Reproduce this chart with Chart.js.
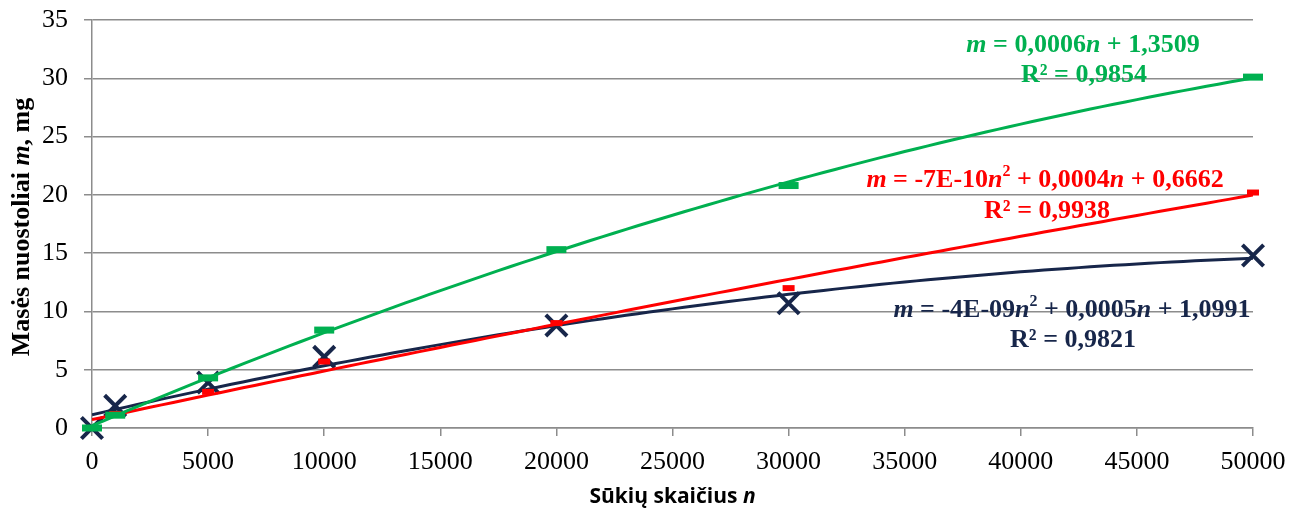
<!DOCTYPE html>
<html>
<head>
<meta charset="utf-8">
<script src="https://cdn.jsdelivr.net/npm/chart.js@4"></script>
<style>
  html, body { margin: 0; padding: 0; background: #ffffff; }
  #wrap { width: 1305px; height: 513px; }
</style>
</head>
<body>
<div id="wrap"><canvas id="c" width="1305" height="513"></canvas></div>
<script>
// Number of cycles n and measured mass loss m (mg) for the three samples
const cycles = [0, 1000, 5000, 10000, 20000, 30000, 50000];
const lossGreen = [0, 1.1, 4.3, 8.4, 15.3, 20.8, 30.1];
const lossRed = [0, 1.2, 3.1, 5.7, 9.0, 12.0, 20.2];
const lossNavy = [0, 1.9, 3.9, 6.1, 8.8, 10.7, 14.8];

const xTicks = [0, 5000, 10000, 15000, 20000, 25000, 30000, 35000, 40000, 45000, 50000];
const yTicks = [0, 5, 10, 15, 20, 25, 30, 35];

const GREEN = '#00B050';
const RED = '#FF0000';
const NAVY = '#17264A';
const GRID = '#8c8c8c';

// Least-squares polynomial fit of degree 2 (trend lines)
function polyfit2(xs, ys) {
  const s = 1e4;
  const n = 3;
  const A = [[0, 0, 0], [0, 0, 0], [0, 0, 0]];
  const b = [0, 0, 0];
  xs.forEach((xv, k) => {
    const x = xv / s;
    const p = [1, x, x * x];
    for (let i = 0; i < n; i++) {
      b[i] += p[i] * ys[k];
      for (let j = 0; j < n; j++) A[i][j] += p[i] * p[j];
    }
  });
  for (let i = 0; i < n; i++) {
    let piv = i;
    for (let r = i + 1; r < n; r++) if (Math.abs(A[r][i]) > Math.abs(A[piv][i])) piv = r;
    [A[i], A[piv]] = [A[piv], A[i]];
    [b[i], b[piv]] = [b[piv], b[i]];
    for (let r = i + 1; r < n; r++) {
      const f = A[r][i] / A[i][i];
      for (let c = i; c < n; c++) A[r][c] -= f * A[i][c];
      b[r] -= f * b[i];
    }
  }
  const c = [0, 0, 0];
  for (let i = n - 1; i >= 0; i--) {
    let v = b[i];
    for (let j = i + 1; j < n; j++) v -= A[i][j] * c[j];
    c[i] = v / A[i][i];
  }
  return x => { const u = x / s; return c[0] + c[1] * u + c[2] * u * u; };
}

function trendPoints(ys) {
  const f = polyfit2(cycles, ys);
  const pts = [];
  for (let x = 0; x <= 50000; x += 500) pts.push({ x, y: f(x) });
  return pts;
}

const toPoints = ys => cycles.map((x, i) => ({ x, y: ys[i] }));

// Equation labels (text runs) anchored in data coordinates
const eqLabels = [
  { color: GREEN, x: 42680, y: 32.86, runs: [{ t: 'm', i: 1 }, { t: ' = 0,0006' }, { t: 'n', i: 1 }, { t: ' + 1,3509' }] },
  { color: GREEN, x: 42720, y: 30.28, runs: [{ t: 'R² = 0,9854' }] },
  { color: RED, x: 41043, y: 21.27, runs: [{ t: 'm', i: 1 }, { t: ' = -7E-10' }, { t: 'n', i: 1 }, { t: '2', sup: 1 }, { t: ' + 0,0004' }, { t: 'n', i: 1 }, { t: ' + 0,6662' }] },
  { color: RED, x: 41130, y: 18.62, runs: [{ t: 'R² = 0,9938' }] },
  { color: NAVY, x: 42205, y: 10.12, runs: [{ t: 'm', i: 1 }, { t: ' = -4E-09' }, { t: 'n', i: 1 }, { t: '2', sup: 1 }, { t: ' + 0,0005' }, { t: 'n', i: 1 }, { t: ' + 1,0991' }] },
  { color: NAVY, x: 42248, y: 7.55, runs: [{ t: 'R² = 0,9821' }] }
];

function drawRuns(ctx, runs, cx, cy, size, family, color) {
  const fontFor = r => (r.i ? 'italic ' : '') + 'bold ' + (r.sup ? Math.round(size * 0.62) : size) + 'px ' + family;
  const widths = [];
  let total = 0;
  runs.forEach(r => { ctx.font = fontFor(r); const w = ctx.measureText(r.t).width; widths.push(w); total += w; });
  let x = cx - total / 2;
  ctx.fillStyle = color;
  ctx.textAlign = 'left';
  ctx.textBaseline = 'middle';
  runs.forEach((r, k) => {
    ctx.font = fontFor(r);
    ctx.fillText(r.t, x, r.sup ? cy - size * 0.3 : cy);
    x += widths[k];
  });
}

const textPlugin = {
  id: 'textPlugin',
  afterDatasetsDraw(chart) {
    const ctx = chart.ctx;
    const xs = chart.scales.x, ys = chart.scales.y, area = chart.chartArea;
    ctx.save();
    eqLabels.forEach(l => {
      drawRuns(ctx, l.runs, xs.getPixelForValue(l.x), ys.getPixelForValue(l.y), 26, '"Liberation Serif"', l.color);
    });
    // axis titles
    drawRuns(ctx, [{ t: 'Sūkių skaičius ' }, { t: 'n', i: 1 }], (area.left + area.right) / 2, 497, 21, '"Open Sans"', '#000000');
    ctx.translate(22, (area.top + area.bottom) / 2 + 3);
    ctx.rotate(-Math.PI / 2);
    drawRuns(ctx, [{ t: 'Masės nuostoliai ' }, { t: 'm', i: 1 }, { t: ', mg' }], 0, 0, 26, '"Liberation Serif"', '#000000');
    ctx.restore();
  }
};

new Chart(document.getElementById('c'), {
  type: 'scatter',
  data: {
    datasets: [
      { type: 'scatter', data: toPoints(lossGreen), order: 0, clip: false,
        pointStyle: 'line', pointRadius: 10, pointBorderWidth: 7, pointBorderColor: GREEN, pointBackgroundColor: GREEN },
      { type: 'line', data: trendPoints(lossGreen), order: 1, borderColor: GREEN, borderWidth: 3,
        pointRadius: 0, fill: false, tension: 0 },
      { type: 'scatter', data: toPoints(lossRed), order: 2, clip: false,
        pointStyle: 'line', pointRadius: 6, pointBorderWidth: 6, pointBorderColor: RED, pointBackgroundColor: RED },
      { type: 'line', data: trendPoints(lossRed), order: 3, borderColor: RED, borderWidth: 3,
        pointRadius: 0, fill: false, tension: 0 },
      { type: 'scatter', data: toPoints(lossNavy), order: 4, clip: false,
        pointStyle: 'crossRot', pointRadius: 15, pointBorderWidth: 4, pointBorderColor: NAVY, pointBackgroundColor: NAVY },
      { type: 'line', data: trendPoints(lossNavy), order: 5, borderColor: NAVY, borderWidth: 3,
        pointRadius: 0, fill: false, tension: 0 }
    ]
  },
  options: {
    responsive: false,
    animation: false,
    events: [],
    layout: { padding: { top: 20, right: 52, left: 0, bottom: 0 } },
    plugins: { legend: { display: false }, tooltip: { enabled: false } },
    scales: {
      x: {
        type: 'linear', min: 0, max: 50000,
        afterBuildTicks: s => { s.ticks = xTicks.map(v => ({ value: v })); },
        afterFit: s => { s.height = 85; s.paddingLeft = 0; s.paddingRight = 0; },
        grid: { drawOnChartArea: false, drawTicks: true, tickLength: 8, color: GRID, lineWidth: 1.5 },
        border: { color: GRID, width: 1.5 },
        ticks: { font: { family: '"Liberation Serif"', size: 26 }, color: '#000000', padding: 11,
          maxRotation: 0, autoSkip: false, callback: v => String(v) }
      },
      y: {
        type: 'linear', min: 0, max: 35,
        afterBuildTicks: s => { s.ticks = yTicks.map(v => ({ value: v })); },
        afterFit: s => { s.width = 92; s.paddingTop = 0; s.paddingBottom = 0; },
        grid: { drawTicks: true, tickLength: 8, color: GRID, lineWidth: 1.5 },
        border: { color: GRID, width: 1.5 },
        ticks: { font: { family: '"Liberation Serif"', size: 26 }, color: '#000000', padding: 16,
          autoSkip: false, callback: v => String(v) }
      }
    }
  },
  plugins: [textPlugin]
});
</script>
</body>
</html>
